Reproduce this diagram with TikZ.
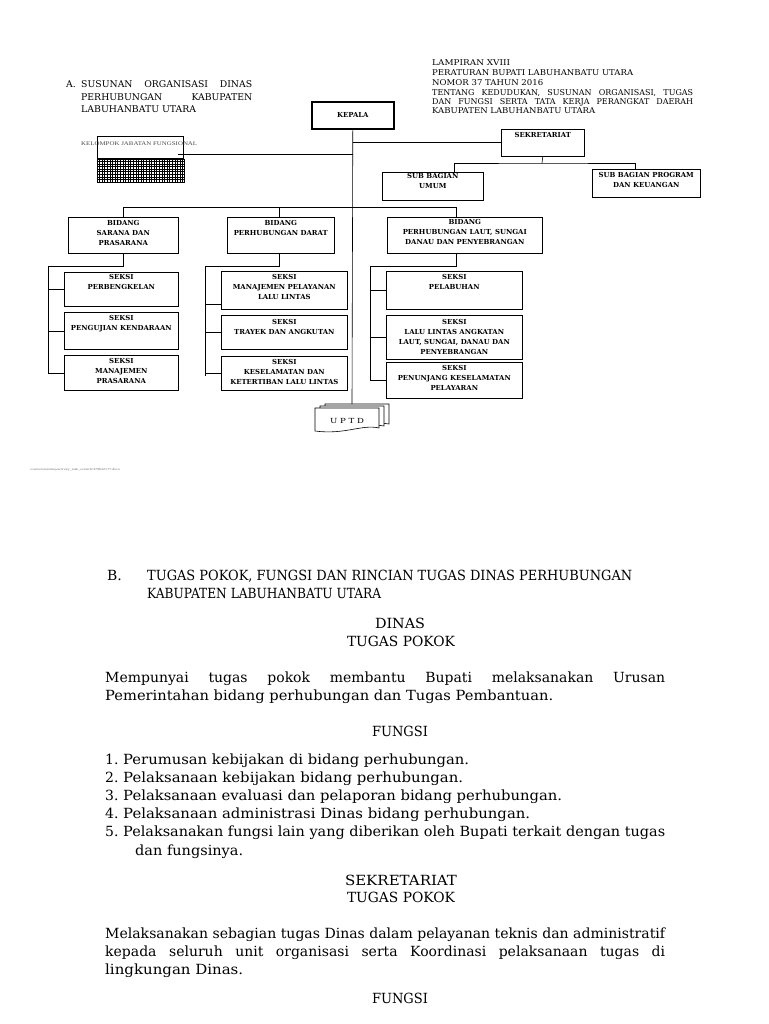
\documentclass[tikz,border=0pt]{standalone}
\usepackage{fontspec}
\usepackage{graphicx}
\setmainfont{DejaVu Serif}
\newfontfamily\lib{Liberation Serif}
\newcommand\fw[2]{\resizebox{#1}{\height}{#2}}
\newcommand\jw[2]{\makebox[#1][s]{#2}}
\newcommand\chartfont{\fontsize{6.9}{10}\selectfont\bfseries}
\newcommand\hdfont{\fontsize{9.3}{11}\selectfont}
\newcommand\rhfont{\fontsize{8}{10}\selectfont}
\newcommand\btfont{\fontsize{14}{18}\selectfont}
\begin{document}
\begin{tikzpicture}[x=1pt,y=-1pt,
  box/.style={draw, line width=0.6pt, inner sep=0, anchor=north west},
  lbl/.style={font=\chartfont, align=center, inner sep=0, anchor=north},
  ln/.style={line width=0.6pt},
  hd/.style={font=\hdfont, inner sep=0, anchor=base west},
  rh/.style={font=\rhfont, inner sep=0, anchor=base west},
  bt/.style={font=\btfont, inner sep=0, anchor=base west},
  btc/.style={font=\btfont, inner sep=0, anchor=base}]
\useasboundingbox[fill=white] (0,0) rectangle (768,1024);

% ---------- header left
\node[hd] (ha) at (66,88) {A.};
\node[hd] (h1) at (81,88) {\jw{171pt}{SUSUNAN ORGANISASI DINAS}};
\node[hd] (h2) at (81,101) {\jw{171pt}{PERHUBUNGAN KABUPATEN}};
\node[hd] (h3) at (81,113) {\fw{115pt}{LABUHANBATU UTARA}};

% ---------- header right
\node[rh] (r1) at (432,66) {\fw{78pt}{LAMPIRAN XVIII}};
\node[rh] (r2) at (432,76) {\fw{201pt}{PERATURAN BUPATI LABUHANBATU UTARA}};
\node[rh] (r3) at (432,86) {\fw{111pt}{NOMOR 37 TAHUN 2016}};
\node[rh] (r4) at (432,95.5) {\jw{261pt}{TENTANG KEDUDUKAN, SUSUNAN ORGANISASI, TUGAS}};
\node[rh] (r5) at (432,104.5) {\jw{261pt}{DAN FUNGSI SERTA TATA KERJA PERANGKAT DAERAH}};
\node[rh] (r6) at (432,113.5) {\fw{163pt}{KABUPATEN LABUHANBATU UTARA}};

% ---------- boxes
\node[box, line width=1.6pt, minimum width=82pt, minimum height=27pt] (kepala) at (311,101) {};
\node[font=\chartfont, inner sep=0] (tkepala) at (kepala.center) {KEPALA};
\node[box, minimum width=83pt, minimum height=27pt] (sek) at (501,129) {};
\node[box, minimum width=86pt, minimum height=23pt] (kjf) at (97,136) {};
\node[box, minimum width=101pt, minimum height=28pt] (umum) at (382,172) {};
\node[box, minimum width=108pt, minimum height=28pt] (prog) at (592,169) {};
\node[box, minimum width=110pt, minimum height=36pt] (sarana) at (68,217) {};
\node[box, minimum width=107pt, minimum height=36pt] (darat) at (227,217) {};
\node[box, minimum width=155pt, minimum height=36pt] (laut) at (387,217) {};
\node[box, minimum width=114pt, minimum height=34pt] (s1) at (64,272) {};
\node[box, minimum width=114pt, minimum height=37pt] (s2) at (64,312) {};
\node[box, minimum width=114pt, minimum height=35pt] (s3) at (64,355) {};
\node[box, minimum width=126pt, minimum height=38pt] (d1) at (221,271) {};
\node[box, minimum width=126pt, minimum height=34pt] (d2) at (221,315) {};
\node[box, minimum width=126pt, minimum height=34pt] (d3) at (221,356) {};
\node[box, minimum width=136pt, minimum height=38pt] (l1) at (386,271) {};
\node[box, minimum width=136pt, minimum height=44pt] (l2) at (386,315) {};
\node[box, minimum width=136pt, minimum height=36pt] (l3) at (386,362) {};

% ---------- box texts
\node[lbl] (tsek) at ([yshift=-3.5]sek.north) {SEKRETARIAT};
\node[lbl] (tumum) at ([yshift=-1.5]umum.north) {SUB BAGIAN\\UMUM};
\node[lbl] (tprog) at ([yshift=-3]prog.north) {SUB BAGIAN PROGRAM\\DAN KEUANGAN};
\node[lbl] (tsarana) at ([yshift=-3]sarana.north) {BIDANG\\SARANA DAN\\PRASARANA};
\node[lbl] (tdarat) at ([yshift=-3]darat.north) {BIDANG\\PERHUBUNGAN DARAT};
\node[lbl] (tlaut) at ([yshift=-2]laut.north) {BIDANG\\PERHUBUNGAN LAUT, SUNGAI\\DANAU DAN PENYEBRANGAN};
\node[lbl] (ts1) at ([yshift=-2]s1.north) {SEKSI\\PERBENGKELAN};
\node[lbl] (ts2) at ([yshift=-3]s2.north) {SEKSI\\PENGUJIAN KENDARAAN};
\node[lbl] (ts3) at ([yshift=-3]s3.north) {SEKSI\\MANAJEMEN\\PRASARANA};
\node[lbl] (td1) at ([yshift=-3]d1.north) {SEKSI\\MANAJEMEN PELAYANAN\\LALU LINTAS};
\node[lbl] (td2) at ([yshift=-4]d2.north) {SEKSI\\TRAYEK DAN ANGKUTAN};
\node[lbl] (td3) at ([yshift=-3]d3.north) {SEKSI\\KESELAMATAN DAN\\KETERTIBAN LALU LINTAS};
\node[lbl] (tl1) at ([yshift=-3]l1.north) {SEKSI\\PELABUHAN};
\node[lbl] (tl2) at ([yshift=-4]l2.north) {SEKSI\\LALU LINTAS ANGKATAN\\LAUT, SUNGAI, DANAU DAN\\PENYEBRANGAN};
\node[lbl] (tl3) at ([yshift=-3]l3.north) {SEKSI\\PENUNJANG KESELAMATAN\\PELAYARAN};

% ---------- kelompok jabatan fungsional
\node[anchor=west, font=\lib\fontsize{5.6}{6}\selectfont, text=black!70, inner sep=0] (kjft) at (81,144) {\fw{116pt}{KELOMPOK JABATAN FUNGSIONAL}};
\begin{scope}
\clip (97,159) rectangle (184,182);
\foreach \gx in {97,99.6,...,185} \draw[line width=1pt] (\gx,159) -- (\gx,182);
\foreach \gy in {159,161.6,...,183} \draw[line width=1pt] (97,\gy) -- (184,\gy);
\end{scope}
\draw[ln] (97,159) rectangle (184,182);

% ---------- UPTD
\draw[ln, fill=white] (325,404) -- (389,404) -- (389,424) .. controls (375,421) and (360,428) .. (325,427) -- cycle;
\draw[ln, fill=white] (320,406) -- (384,406) -- (384,426) .. controls (370,423) and (355,430) .. (320,429) -- cycle;
\draw[ln, fill=white] (315,408) -- (379,408) -- (379,428) .. controls (362,424) and (345,435) .. (315,431) -- cycle;
\node[font=\fontsize{7}{8}\selectfont, inner sep=0] (uptd) at (347,421) {\fw{34pt}{U P T D}};
\coordinate (uptdtop) at (352,404);

% ---------- connectors
\coordinate (kj) at (178,154);
\coordinate (bl) at (352,207);
\coordinate (sj) at (542,163);
\draw[ln] (kepala.south) -- (uptdtop);
\draw[ln] (kepala.south |- sek.west) -- (sek.west);
\draw[ln] (kj) -- (kj -| kepala.south);
\draw[ln] (sek.south) -- (sj);
\draw[ln] ([xshift=21]umum.north) |- (sj) -| ([xshift=-11]prog.north);
\draw[ln] (sarana.north) |- (bl);
\draw[ln] ([xshift=-9]laut.north) |- (bl);
\draw[ln] ([xshift=-2]darat.north) -- ([xshift=-2]darat.north |- bl);

\coordinate (sa) at (48,266);
\draw[ln] (sarana.south) |- (sa) -- (sa |- s3.west) -- (s3.west);
\draw[ln] (s1.west -| sa) -- (s1.west);
\draw[ln] (s2.west -| sa) -- (s2.west);

\coordinate (da) at (205,266);
\coordinate (dab) at (205,376);
\coordinate (d1t) at ([yshift=-14]d1.west);
\draw[ln] ([xshift=-2]darat.south) |- (da) -- (dab);
\draw[ln] (d1t -| da) -- (d1t);
\draw[ln] (d2.west -| da) -- (d2.west);
\draw[ln] (d3.west -| da) -- (d3.west);

\coordinate (la) at (370,266);
\coordinate (lab) at (370,380);
\draw[ln] ([xshift=-9]laut.south) |- (la) -- (lab);
\draw[ln] (l1.west -| la) -- (l1.west);
\draw[ln] (l2.west -| la) -- (l2.west);
\draw[ln] (l3.west -| la) -- (l3.west);

% ---------- tiny path text
\node[anchor=west, font=\lib\fontsize{3}{3}\selectfont, text=black!60, inner sep=0] (path) at (30,470) {\fw{90pt}{/conversion/tmp/activity\_task\_scratch/379632177.docx}};

% ---------- bottom text
\node[bt] (bB) at (107,580) {B.};
\node[bt] (b1) at (147,580) {\fw{485pt}{TUGAS POKOK, FUNGSI DAN RINCIAN TUGAS DINAS PERHUBUNGAN}};
\node[bt] (b2) at (147,598) {\fw{234pt}{KABUPATEN LABUHANBATU UTARA}};
\node[btc] (b3) at (400,628) {\fw{50pt}{DINAS}};
\node[btc] (b4) at (401,646) {\fw{108pt}{TUGAS POKOK}};
\node[bt] (b5) at (105,682) {\jw{560pt}{Mempunyai tugas pokok membantu Bupati melaksanakan Urusan}};
\node[bt] (b6) at (105,700) {\fw{448pt}{Pemerintahan bidang perhubungan dan Tugas Pembantuan.}};
\node[btc] (b7) at (400,736) {\fw{56pt}{FUNGSI}};
\node[bt] (n1) at (105,764) {1.};
\node[bt] (n2) at (105,782) {2.};
\node[bt] (n3) at (105,800) {3.};
\node[bt] (n4) at (105,818) {4.};
\node[bt] (n5) at (105,836) {5.};
\node[bt] (f1) at (123,764) {\fw{346pt}{Perumusan kebijakan di bidang perhubungan.}};
\node[bt] (f2) at (123,782) {\fw{340pt}{Pelaksanaan kebijakan bidang perhubungan.}};
\node[bt] (f3) at (123,800) {\fw{439pt}{Pelaksanaan evaluasi dan pelaporan bidang perhubungan.}};
\node[bt] (f4) at (123,818) {\fw{407pt}{Pelaksanaan administrasi Dinas bidang perhubungan.}};
\node[bt] (f5) at (123,836) {\fw{542pt}{Pelaksanakan fungsi lain yang diberikan oleh Bupati terkait dengan tugas}};
\node[bt] (f6) at (135,855) {\fw{108pt}{dan fungsinya.}};
\node[btc] (b8) at (401,885) {\fw{112pt}{SEKRETARIAT}};
\node[btc] (b9) at (401,902) {\fw{108pt}{TUGAS POKOK}};
\node[bt] (p1) at (105,938) {\fw{560pt}{Melaksanakan sebagian tugas Dinas dalam pelayanan teknis dan administratif}};
\node[bt] (p2) at (105,956) {\jw{560pt}{kepada seluruh unit organisasi serta Koordinasi pelaksanaan tugas di}};
\node[bt] (p3) at (105,974) {\fw{138pt}{lingkungan Dinas.}};
\node[btc] (b10) at (400,1003) {\fw{56pt}{FUNGSI}};
\end{tikzpicture}
\end{document}
